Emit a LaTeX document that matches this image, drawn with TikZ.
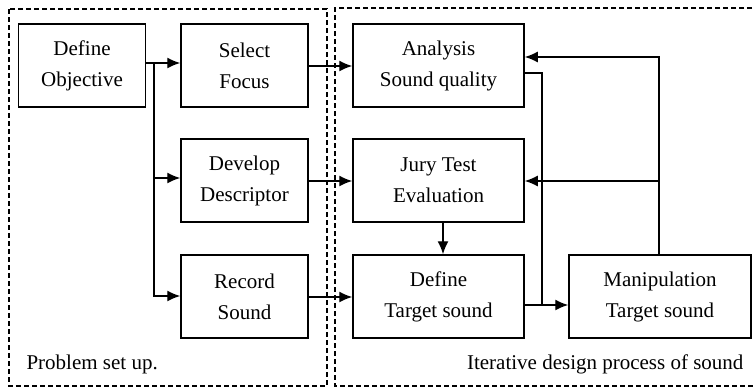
\documentclass[tikz,border=0pt]{standalone}
\usepackage{fontspec}
\setmainfont{Liberation Serif}
\usetikzlibrary{arrows.meta}

\begin{document}
\begin{tikzpicture}[x=1pt,y=-1pt,
  box/.style={draw,line width=1.5pt,minimum width=127pt,minimum height=83pt,
    align=center,inner sep=0pt,font=\fontsize{21}{31}\selectfont},
  wbox/.style={box,minimum width=171pt},
  flow/.style={line width=1.4pt,-{Latex[length=13pt,width=11pt]}},
  link/.style={line width=1.4pt},
  frame/.style={line width=1.3pt,dash pattern=on 5pt off 3pt},
  caption/.style={font=\fontsize{21}{24}\selectfont}]
\useasboundingbox (0,0) rectangle (755,388);
% dashed frames
\draw[frame] (9,9) rectangle (327,386);
\draw[frame] (760,8) -- (335,8) -- (335,386) -- (760,386);
\node[caption,anchor=base west] (psu) at (23,369) {Problem set up.};
\node[caption,anchor=base east] (idp) at (747,369) {Iterative design process of sound};
% left column
\node[box] (obj) at (82,65.5) {Define\\Objective};
\node[box] (foc) at (244.5,65.5) {Select\\Focus};
\node[box] (des) at (244.5,180.5) {Develop\\Descriptor};
\node[box] (rec) at (244.5,296.5) {Record\\Sound};
% right side
\node[wbox] (ana) at (438.5,65.5) {Analysis\\Sound quality};
\node[wbox] (jur) at (438.5,180.5) {Jury Test\\Evaluation};
\node[wbox] (tgt) at (438.5,296.5) {Define\\Target sound};
\node[box,minimum width=182pt] (man) at (660,296.5) {Manipulation\\Target sound};
\coordinate (split) at (154,63);
\coordinate (merge) at (542,305);
\coordinate (back) at (659,57);
% connectors
\draw[link] (obj.east |- split) -- (split);
\draw[flow] (split) -- (foc.west |- split);
\draw[flow] (split) |- (des.west |- 0,178);
\draw[flow] (split) |- (rec.west |- 0,296);
\draw[flow] (foc.east |- 0,66) -- (ana.west |- 0,66);
\draw[flow] (des.east |- 0,181) -- (jur.west |- 0,181);
\draw[flow] (rec.east |- 0,297) -- (tgt.west |- 0,297);
\draw[flow] (jur.south -| 443,0) -- (tgt.north -| 443,0);
\draw[flow] (tgt.east |- merge) -- (man.west |- merge);
\draw[link] (ana.east |- 0,73) -| (merge);
\draw[flow] (man.north -| back) -- (back) -- (ana.east |- back);
\draw[flow] (man.north -| back) |- (jur.east |- 0,181);
\end{tikzpicture}
\end{document}
